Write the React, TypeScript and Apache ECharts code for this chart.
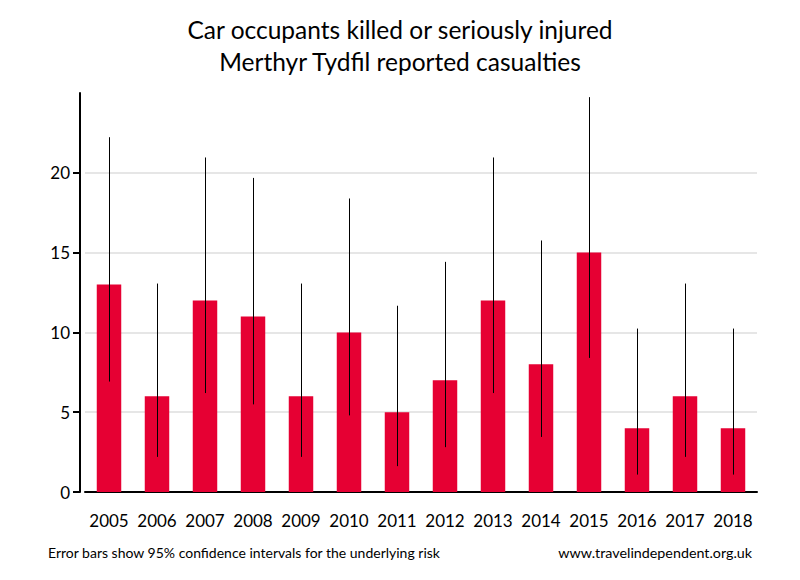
import React, { useEffect, useRef } from "react";
import * as echarts from "echarts";

const years = ["2005","2006","2007","2008","2009","2010","2011","2012","2013","2014","2015","2016","2017","2018"];
const casualties = [13, 6, 12, 11, 6, 10, 5, 7, 12, 8, 15, 4, 6, 4];
const lowerCI = [6.92, 2.2, 6.2, 5.49, 2.2, 4.8, 1.62, 2.81, 6.2, 3.45, 8.4, 1.09, 2.2, 1.09];
const upperCI = [22.23, 13.06, 20.96, 19.68, 13.06, 18.39, 11.67, 14.42, 20.96, 15.76, 24.74, 10.24, 13.06, 10.24];
const yTicks = [0, 5, 10, 15, 20];

const FONT = "Lato";

export default function App() {
  const ref = useRef<HTMLDivElement>(null);
  useEffect(() => {
    if (!ref.current) return;
    const chart = echarts.init(ref.current, null, { renderer: "svg" });
    const errData = years.map((_, i) => [i, lowerCI[i], upperCI[i]]);
    chart.setOption({
      animation: false,
      backgroundColor: "#ffffff",
      textStyle: { fontFamily: FONT },
      title: {
        text: "Car occupants killed or seriously injured\nMerthyr Tydfil reported casualties",
        left: "center",
        top: 8,
        textStyle: { fontFamily: FONT, fontSize: 24.5, fontWeight: "normal", color: "#000", lineHeight: 32 },
      },
      grid: { left: 85, right: 43, top: 93, bottom: 88, containLabel: false },
      xAxis: {
        type: "category",
        data: years,
        axisLine: { lineStyle: { color: "#000", width: 2 } },
        axisTick: { show: false },
        axisLabel: { color: "#000", fontSize: 17, fontFamily: FONT, margin: 20, interval: 0 },
      },
      yAxis: {
        type: "value",
        min: 0,
        max: 25,
        interval: 5,
        offset: 5,
        axisLine: { show: true, lineStyle: { color: "#000", width: 2 } },
        axisTick: { show: true, length: 7, lineStyle: { color: "#000", width: 2 }, customValues: yTicks },
        axisLabel: { color: "#000", fontSize: 17, fontFamily: FONT, margin: 10, customValues: yTicks },
        splitLine: { show: true, lineStyle: { color: "#e6e6e6", width: 2 } },
      },
      series: [
        {
          type: "bar",
          data: casualties,
          barWidth: "51%",
          itemStyle: { color: "#E60033" },
        },
        {
          type: "custom",
          data: errData,
          encode: { x: 0, y: [1, 2] },
          z: 10,
          renderItem: (params: any, api: any) => {
            const x = api.value(0);
            const lo = api.coord([x, api.value(1)]);
            const hi = api.coord([x, api.value(2)]);
            return {
              type: "line",
              shape: { x1: Math.round(lo[0]) + 0.5, y1: lo[1], x2: Math.round(hi[0]) + 0.5, y2: hi[1] },
              style: { stroke: "#000", lineWidth: 1 },
            };
          },
        },
      ],
      graphic: [
        {
          type: "text",
          left: 48,
          top: 545,
          style: { text: "Error bars show 95% confidence intervals for the underlying risk", fontSize: 14, fontFamily: FONT, fill: "#000" },
        },
        {
          type: "text",
          right: 48,
          top: 545,
          style: { text: "www.travelindependent.org.uk", fontSize: 14.3, fontFamily: FONT, fill: "#000" },
        },
      ],
    });
    return () => chart.dispose();
  }, []);
  return <div ref={ref} style={{ width: 800, height: 580, position: "absolute", left: 0, top: 0 }} />;
}
